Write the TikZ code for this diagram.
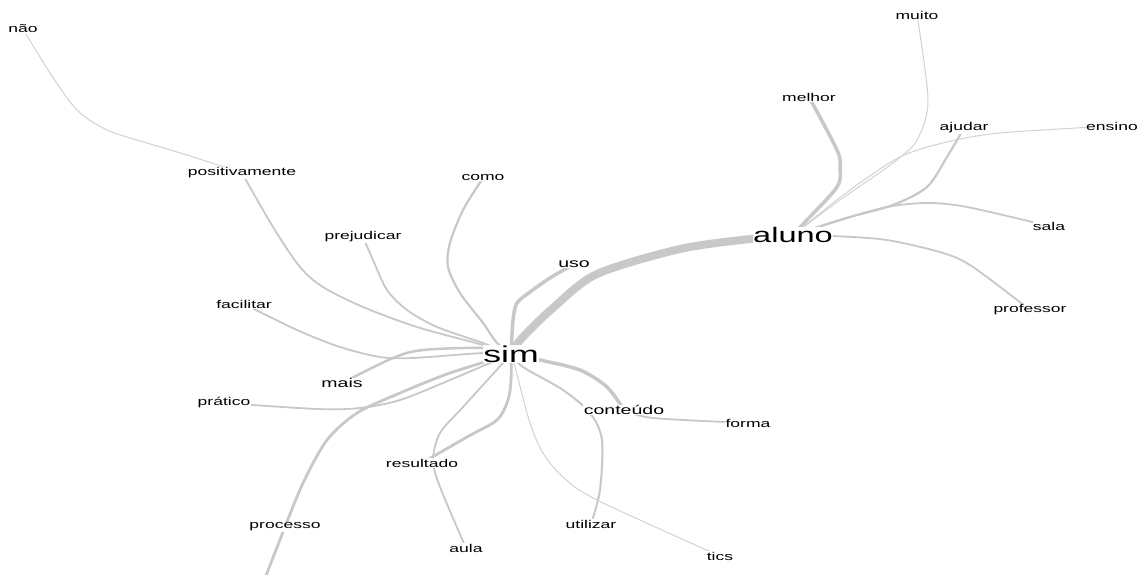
\documentclass[tikz,border=0pt]{standalone}
\usepackage{fontspec}
\setmainfont{Liberation Sans}[FakeStretch=1.55]
\usetikzlibrary{backgrounds}
\definecolor{edgegray}{RGB}{200,200,200}
\definecolor{faintgray}{RGB}{210,210,210}
\begin{document}
\begin{tikzpicture}[x=1pt,y=-1pt,
  word/.style={fill=white,inner sep=0.4pt,text=black,font=\fontsize{11.3}{13}\selectfont},
  midword/.style={word,font=\fontsize{12.6}{15}\selectfont},
  bigword/.style={word,font=\fontsize{23}{27}\selectfont},
  link/.style={draw=edgegray,line width=1.8pt,line join=round,line cap=round},
  thinlink/.style={link,draw=faintgray,line width=1pt},
  boldlink/.style={link,line width=3.5pt},
  heavylink/.style={link,line width=8pt}]
\useasboundingbox (0,0) rectangle (1143,575);

% words
\node[bigword] (sim) at (511,354) {sim};
\node[bigword,font=\fontsize{21}{25}\selectfont] (aluno) at (793,235) {aluno};
\node[midword] (uso) at (574,264) {uso};
\node[midword] (mais) at (342,383) {mais};
\node[midword] (conteudo) at (624,410) {conteúdo};
\node[word] (nao) at (23,29) {não};
\node[word] (positivamente) at (242,173) {positivamente};
\node[word] (prejudicar) at (363,237) {prejudicar};
\node[word] (como) at (483,178) {como};
\node[word] (facilitar) at (244,304) {facilitar};
\node[word] (pratico) at (224,403) {prático};
\node[word] (resultado) at (422,463) {resultado};
\node[word] (processo) at (285,527) {processo};
\node[word] (aula) at (466,548) {aula};
\node[word] (forma) at (748,423) {forma};
\node[word] (utilizar) at (591,524) {utilizar};
\node[word] (tics) at (720,556) {tics};
\node[word] (melhor) at (809,97) {melhor};
\node[word] (muito) at (917,15) {muito};
\node[word] (ajudar) at (964,128) {ajudar};
\node[word] (ensino) at (1112,126) {ensino};
\node[word] (sala) at (1049,226) {sala};
\node[word] (professor) at (1030,310) {professor};
\coordinate (procend) at (265,578);

\begin{pgfonlayer}{background}
\fill[white] (0,0) rectangle (1143,575);
% edges around "sim"
\draw[heavylink] plot[smooth] coordinates {(sim.center) (522,338) (554,307) (597,274) (680,249) (750,239) (aluno.center)};
\draw[boldlink] plot[smooth] coordinates {(sim.center) (513,320) (517,303) (530,292) (550,278) (uso.center)};
\draw[link,line width=2.2pt] plot[smooth] coordinates {(sim.center) (497,343) (483,323) (460,293) (448,267) (450,243) (463,210) (como.center)};
\draw[link] plot[smooth] coordinates {(sim.center) (483,343) (437,327) (407,310) (387,290) (373,260) (prejudicar.center)};
\draw[link] plot[smooth] coordinates {(sim.center) (483,345) (417,327) (363,307) (323,287) (300,267) (273,227) (positivamente.center)};
\draw[thinlink] plot[smooth] coordinates {(positivamente.center) (227,168) (187,155) (147,143) (107,130) (77,110) (50,73) (nao.center)};
\draw[link] plot[smooth] coordinates {(sim.center) (483,353) (413,358) (380,357) (340,347) (297,330) (facilitar.center)};
\draw[link,line width=2.5pt] plot[smooth] coordinates {(sim.center) (483,348) (423,350) (393,358) (mais.center)};
\draw[link] plot[smooth] coordinates {(sim.center) (450,380) (400,400) (360,408) (317,409) (pratico.center)};
\draw[link,line width=2.8pt] plot[smooth] coordinates {(sim.center) (450,373) (400,393) (357,413) (327,440) (303,483) (processo.center)};
\draw[link,line width=2.8pt] (processo.center) -- (procend);
\draw[link,line width=2.8pt] plot[smooth] coordinates {(sim.center) (511,380) (508,400) (497,420) (467,437) (resultado.center)};
\draw[link] plot[smooth] coordinates {(sim.center) (503,363) (463,407) (440,433) (433,460) (440,487) (aula.center)};
\draw[boldlink] plot[smooth] coordinates {(sim.center) (540,360) (580,370) (607,387) (conteudo.center)};
\draw[link] plot[smooth] coordinates {(conteudo.center) (653,418) (forma.center)};
\draw[link,line width=2pt] plot[smooth] coordinates {(sim.center) (523,367) (563,390) (590,413) (602,440) (600,490) (utilizar.center)};
\draw[thinlink] plot[smooth] coordinates {(sim.center) (515,367) (530,423) (543,453) (563,477) (597,500) (tics.center)};
% edges around "aluno"
\draw[boldlink] plot[smooth] coordinates {(aluno.center) (805,222) (837,187) (840,167) (837,150) (melhor.center)};
\draw[thinlink] plot[smooth] coordinates {(aluno.center) (840,200) (893,163) (917,140) (928,100) (muito.center)};
\draw[thinlink] plot[smooth] coordinates {(aluno.center) (850,190) (900,157) (947,142) (1000,133) (ensino.center)};
\draw[link,line width=2.2pt] plot[smooth] coordinates {(aluno.center) (850,217) (893,205) (927,187) (947,157) (ajudar.center)};
\draw[link] plot[smooth] coordinates {(aluno.center) (840,220) (887,207) (927,203) (967,207) (sala.center)};
\draw[link] plot[smooth] coordinates {(aluno.center) (833,236) (887,240) (943,253) (973,267) (professor.center)};
\end{pgfonlayer}
\end{tikzpicture}
\end{document}
